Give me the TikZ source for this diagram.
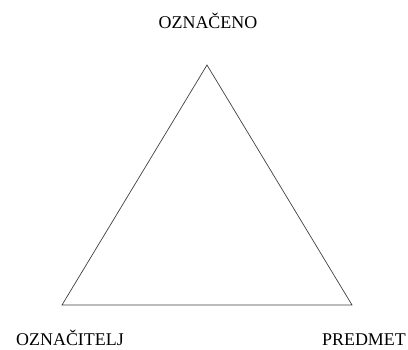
\documentclass[tikz,border=0pt]{standalone}
\usepackage{fontspec}
\setmainfont{Liberation Serif}
\usetikzlibrary{positioning}

\begin{document}
\begin{tikzpicture}[
    x=1bp, y=-1bp,
    font=\fontsize{18}{20}\selectfont,
    lbl/.style={inner sep=0pt, anchor=base},
    side/.style={draw=black!75, line width=0.7bp}
]
\useasboundingbox (0,0) rectangle (408,350);
\coordinate (top) at (207,65);
\coordinate (left) at (62,305);
\coordinate (right) at (352,305);

\node[lbl] (oznaceno) at (208,28) {OZNAČENO};
\node[lbl] (oznacitelj) at (70,345) {OZNAČITELJ};
\node[lbl] (predmet) at (364,345) {PREDMET};

\draw[side] (top) -- (left) -- (right) -- cycle;
\end{tikzpicture}
\end{document}
